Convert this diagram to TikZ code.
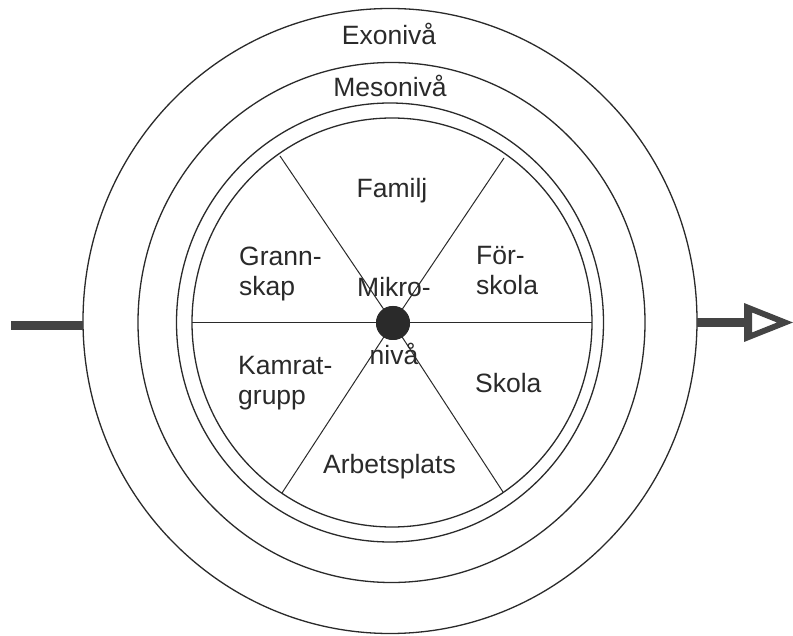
\documentclass[tikz,border=0pt]{standalone}
\usepackage{fontspec}
\setmainfont{Liberation Sans}
\definecolor{ink}{HTML}{2A2A2A}
\definecolor{bar}{HTML}{444444}
\begin{document}
\begin{tikzpicture}[x=1pt,y=-1pt,
  ring/.style={draw=ink,line width=1.3pt},
  spoke/.style={draw=ink,line width=1pt},
  lbl/.style={inner sep=0pt,text=ink,font=\fontsize{26.5}{30}\selectfont},
  lblw/.style={lbl,anchor=base west},
  lblc/.style={lbl,anchor=base}]
\useasboundingbox (0,0) rectangle (793,636);
\fill[white] (0,0) rectangle (793,636);
% rings
\coordinate (c) at (392,322);
\draw[ring] (390,321) ellipse [x radius=307pt, y radius=312.5pt];
\draw[ring] (391.5,322.5) ellipse [x radius=253.5pt, y radius=260pt];
\draw[ring] (390,322.5) ellipse [x radius=213.5pt, y radius=219.5pt];
\draw[ring] (392,322.5) ellipse [x radius=200pt, y radius=204.5pt];
% spokes
\node[circle,fill=ink,minimum size=34pt,inner sep=0pt] (dot) at (393,323) {};
\coordinate (s1) at (280,156);
\coordinate (s2) at (504,158);
\coordinate (s3) at (282,493);
\coordinate (s4) at (503,492);
\coordinate (s5) at (192,323);
\coordinate (s6) at (592,323);
\foreach \s in {s1,s2,s3,s4,s5,s6} \draw[spoke] (dot.center) -- (\s);
\node[circle,fill=ink,minimum size=34pt,inner sep=0pt] at (dot.center) {};
% input bar
\coordinate (inL) at (11,325.5);
\coordinate (inR) at (83,325.5);
\draw[bar,line width=9pt] (inL) -- (inR);
% output arrow
\coordinate (outL) at (697,322.5);
\coordinate (outR) at (748,322.5);
\draw[bar,line width=8.5pt] (outL) -- (outR);
\fill[bar,even odd rule] (744,303) -- (793,322.5) -- (744,342) -- cycle
  (752,312.5) -- (777,322.5) -- (752,332.5) -- cycle;
% labels
\node[lblc] (exo) at (389,45) {Exonivå};
\node[lblc] (meso) at (390,97) {Mesonivå};
\node[lblc] (fam) at (392,198) {Familj};
\node[lblw] (gr1) at (239,266) {Grann-};
\node[lblw] (gr2) at (239,296) {skap};
\node[lblc] (mik1) at (394,297) {Mikro-};
\node[lblc] (mik2) at (394,365) {nivå};
\node[lblw] (fs1) at (476,265) {För-};
\node[lblw] (fs2) at (476,295) {skola};
\node[lblw] (ka1) at (238,375) {Kamrat-};
\node[lblw] (ka2) at (238,405) {grupp};
\node[lblw] (sk) at (475,393) {Skola};
\node[lblc] (arb) at (389.5,473) {Arbetsplats};
\end{tikzpicture}
\end{document}
